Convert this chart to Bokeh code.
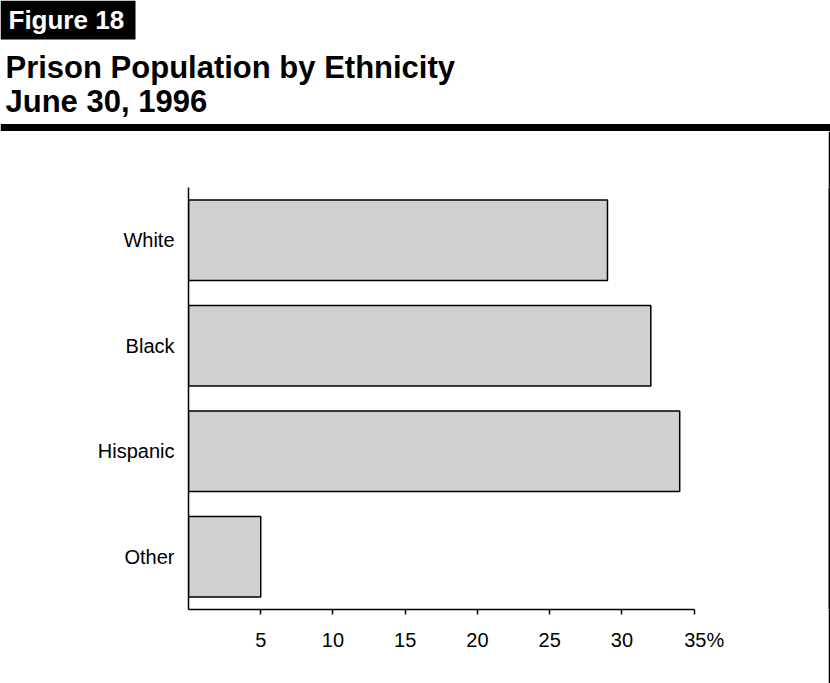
from bokeh.plotting import figure
from bokeh.layouts import column, row
from bokeh.models import Label, BoxAnnotation, FactorRange, Range1d, FixedTicker
from bokeh.embed import file_html
from bokeh.resources import INLINE

# Share of the prison population by ethnic group, June 30, 1996 (percent)
groups = ["White", "Black", "Hispanic", "Other"]
shares = [29, 32, 34, 5]

tick_values = [5, 10, 15, 20, 25, 30, 35]
tick_labels = ["5", "10", "15", "20", "25", "30", "\u200335%"]

W, H = 830, 683
HEAD_H = 131
FONT = "Liberation Sans"

# ---- header strip: figure tag, two-line title, heavy rule ----
head = figure(width=W, height=HEAD_H, x_range=Range1d(0, W), y_range=Range1d(HEAD_H, 0),
              x_axis_location=None, y_axis_location=None,
              output_backend="svg", toolbar_location=None,
              min_border=0)
head.outline_line_color = None
head.xgrid.visible = False
head.ygrid.visible = False
head.add_layout(BoxAnnotation(left=0, right=135, top=0, bottom=39,
                              fill_color="black", fill_alpha=1, line_color=None))
head.add_layout(Label(x=8, y=19.5, text="Figure 18", text_color="white", text_font=FONT,
                      text_font_style="bold", text_font_size="26px",
                      text_baseline="alphabetic"))
head.add_layout(Label(x=5, y=66.5, text="Prison Population by Ethnicity", text_color="black",
                      text_font=FONT, text_font_style="bold", text_font_size="31px",
                      text_baseline="alphabetic"))
head.add_layout(Label(x=5, y=101.3, text="June 30, 1996", text_color="black",
                      text_font=FONT, text_font_style="bold", text_font_size="31px",
                      text_baseline="alphabetic"))
head.add_layout(BoxAnnotation(left=0, right=W, top=123.5, bottom=130.5,
                              fill_color="black", fill_alpha=1, line_color=None))

# ---- bar chart ----
p = figure(
    width=W - 2, height=H - HEAD_H,
    y_range=FactorRange(factors=list(reversed(groups))),
    x_range=Range1d(0, 38),
    output_backend="svg", toolbar_location=None,
    min_border_left=188, min_border_right=91,
    min_border_top=56, min_border_bottom=74,
)
p.outline_line_color = None
p.xgrid.visible = False
p.ygrid.visible = False

p.hbar(y=groups, left=0, right=shares, height=0.765,
       fill_color="#d0d0d0", line_color="black", line_width=1.5)

xa = p.xaxis[0]
xa.bounds = (0, 35)
xa.ticker = FixedTicker(ticks=tick_values)
xa.major_label_overrides = {v: t for v, t in zip(tick_values, tick_labels)}
xa.minor_tick_line_color = None
xa.major_tick_in = 0
xa.major_tick_out = 5
xa.major_tick_line_width = 1.5
xa.axis_line_width = 1.5
xa.major_label_standoff = 14
xa.major_label_text_font = FONT
xa.major_label_text_font_size = "20px"
xa.major_label_text_color = "black"

ya = p.yaxis[0]
ya.major_tick_in = 0
ya.major_tick_out = 0
ya.axis_line_width = 1.5
ya.major_label_standoff = 14
ya.major_label_text_font = FONT
ya.major_label_text_font_size = "20px"
ya.major_label_text_color = "black"

# ---- right-hand frame edge ----
edge = figure(width=2, height=H - HEAD_H, x_axis_location=None, y_axis_location=None,
              output_backend="svg", toolbar_location=None, min_border=0)
edge.outline_line_color = None
edge.xgrid.visible = False
edge.ygrid.visible = False
edge.background_fill_color = "black"
edge.border_fill_color = "black"

layout = column(head, row(p, edge, spacing=0), spacing=0)

open("out.html", "w").write(file_html(layout, INLINE))
